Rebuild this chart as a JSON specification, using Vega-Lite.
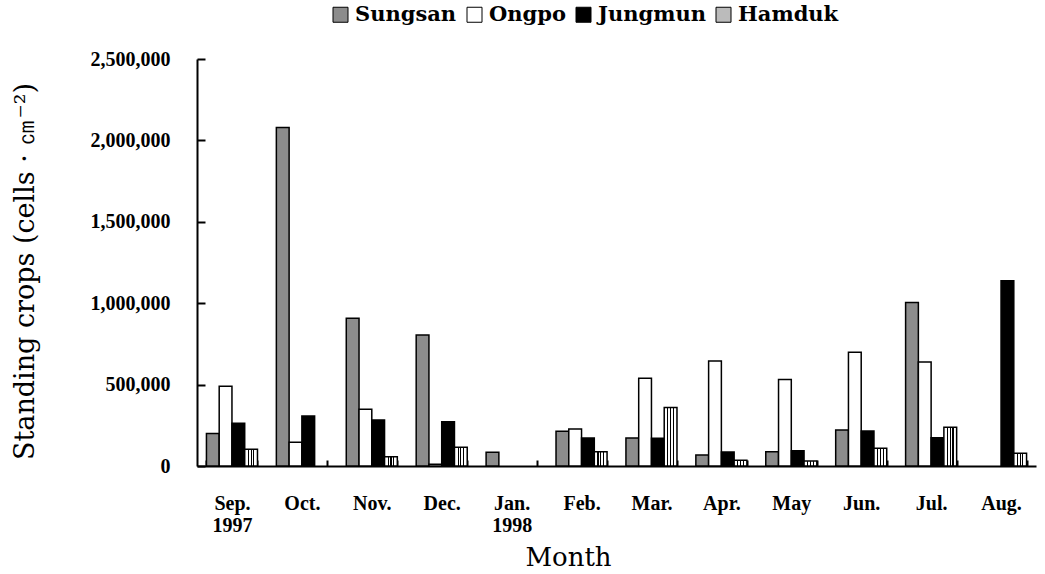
{
  "$schema": "https://vega.github.io/schema/vega-lite/v6.json",
  "width": 839,
  "height": 407,
  "autosize": {"type": "none"},
  "padding": {"left": 197, "top": 59, "right": 9, "bottom": 108},
  "background": "white",
  "config": {"view": {"stroke": null}, "font": "Liberation Serif"},
  "data": {
    "values": [
      {"month": "Sep. 1997", "site": "Sungsan", "value": 200000},
      {"month": "Sep. 1997", "site": "Ongpo", "value": 490000},
      {"month": "Sep. 1997", "site": "Jungmun", "value": 262000},
      {"month": "Sep. 1997", "site": "Hamduk", "value": 103000},
      {"month": "Oct.", "site": "Sungsan", "value": 2080000},
      {"month": "Oct.", "site": "Ongpo", "value": 146000},
      {"month": "Oct.", "site": "Jungmun", "value": 307000},
      {"month": "Oct.", "site": "Hamduk", "value": 0},
      {"month": "Nov.", "site": "Sungsan", "value": 907000},
      {"month": "Nov.", "site": "Ongpo", "value": 348000},
      {"month": "Nov.", "site": "Jungmun", "value": 283000},
      {"month": "Nov.", "site": "Hamduk", "value": 57000},
      {"month": "Dec.", "site": "Sungsan", "value": 805000},
      {"month": "Dec.", "site": "Ongpo", "value": 10000},
      {"month": "Dec.", "site": "Jungmun", "value": 272000},
      {"month": "Dec.", "site": "Hamduk", "value": 115000},
      {"month": "Jan. 1998", "site": "Sungsan", "value": 84000},
      {"month": "Jan. 1998", "site": "Ongpo", "value": 0},
      {"month": "Jan. 1998", "site": "Jungmun", "value": 0},
      {"month": "Jan. 1998", "site": "Hamduk", "value": 0},
      {"month": "Feb.", "site": "Sungsan", "value": 213000},
      {"month": "Feb.", "site": "Ongpo", "value": 227000},
      {"month": "Feb.", "site": "Jungmun", "value": 172000},
      {"month": "Feb.", "site": "Hamduk", "value": 88000},
      {"month": "Mar.", "site": "Sungsan", "value": 172000},
      {"month": "Mar.", "site": "Ongpo", "value": 539000},
      {"month": "Mar.", "site": "Jungmun", "value": 170000},
      {"month": "Mar.", "site": "Hamduk", "value": 360000},
      {"month": "Apr.", "site": "Sungsan", "value": 68000},
      {"month": "Apr.", "site": "Ongpo", "value": 645000},
      {"month": "Apr.", "site": "Jungmun", "value": 86000},
      {"month": "Apr.", "site": "Hamduk", "value": 35000},
      {"month": "May", "site": "Sungsan", "value": 88000},
      {"month": "May", "site": "Ongpo", "value": 532000},
      {"month": "May", "site": "Jungmun", "value": 94000},
      {"month": "May", "site": "Hamduk", "value": 30000},
      {"month": "Jun.", "site": "Sungsan", "value": 221000},
      {"month": "Jun.", "site": "Ongpo", "value": 698000},
      {"month": "Jun.", "site": "Jungmun", "value": 215000},
      {"month": "Jun.", "site": "Hamduk", "value": 109000},
      {"month": "Jul.", "site": "Sungsan", "value": 1005000},
      {"month": "Jul.", "site": "Ongpo", "value": 639000},
      {"month": "Jul.", "site": "Jungmun", "value": 174000},
      {"month": "Jul.", "site": "Hamduk", "value": 238000},
      {"month": "Aug.", "site": "Sungsan", "value": 0},
      {"month": "Aug.", "site": "Ongpo", "value": 0},
      {"month": "Aug.", "site": "Jungmun", "value": 1138000},
      {"month": "Aug.", "site": "Hamduk", "value": 78000}
    ]
  },
  "transform": [{"filter": "datum.value > 0"}],
  "mark": {"type": "bar", "stroke": "black", "strokeWidth": 1.5},
  "encoding": {
    "x": {
      "field": "month",
      "type": "nominal",
      "sort": ["Sep. 1997", "Oct.", "Nov.", "Dec.", "Jan. 1998", "Feb.", "Mar.", "Apr.", "May", "Jun.", "Jul.", "Aug."],
      "scale": {"paddingInner": 0.27, "paddingOuter": 0.135},
      "axis": {
        "title": "Month",
        "titleFont": "DejaVu Serif",
        "titleFontSize": 26,
        "titleFontWeight": "normal",
        "titleColor": "black",
        "titleX": 371,
        "titleY": 78,
        "titleBaseline": "top",
        "titleAlign": "center",
        "labelAngle": 0,
        "labelExpr": "split(datum.label, ' ')",
        "labelFont": "Liberation Serif",
        "labelFontSize": 20,
        "labelFontWeight": "bold",
        "labelColor": "black",
        "labelLineHeight": 22,
        "labelPadding": 33,
        "tickBand": "extent",
        "tickSize": -6,
        "tickWidth": 2,
        "tickColor": "black",
        "domainColor": "black",
        "domainWidth": 2
      }
    },
    "xOffset": {
      "field": "site",
      "type": "nominal",
      "sort": ["Sungsan", "Ongpo", "Jungmun", "Hamduk"],
      "scale": {"domain": ["Sungsan", "Ongpo", "Jungmun", "Hamduk"], "paddingInner": 0, "paddingOuter": 0}
    },
    "y": {
      "field": "value",
      "type": "quantitative",
      "scale": {"domain": [0, 2500000], "nice": false},
      "axis": {
        "values": [0, 500000, 1000000, 1500000, 2000000, 2500000],
        "format": ",d",
        "grid": false,
        "title": "Standing crops (cells · ㎝⁻²)",
        "titleFont": "DejaVu Serif",
        "titleFontSize": 27,
        "titleFontWeight": "normal",
        "titleColor": "black",
        "titleX": -172,
        "titleY": 212,
        "titleAlign": "center",
        "titleBaseline": "middle",
        "titleAngle": -90,
        "labelFont": "Liberation Serif",
        "labelFontSize": 20,
        "labelFontWeight": "bold",
        "labelColor": "black",
        "labelPadding": 35,
        "tickSize": -8,
        "tickWidth": 2,
        "tickColor": "black",
        "domainColor": "black",
        "domainWidth": 2
      }
    },
    "fill": {
      "condition": {
        "test": "datum.site === 'Hamduk'",
        "value": {
          "gradient": "linear",
          "x1": 0, "y1": 0, "x2": 1, "y2": 0,
          "stops": [
            {"offset": 0, "color": "#ffffff"},
            {"offset": 0.24, "color": "#ffffff"},
            {"offset": 0.24, "color": "#000000"},
            {"offset": 0.33, "color": "#000000"},
            {"offset": 0.33, "color": "#ffffff"},
            {"offset": 0.455, "color": "#ffffff"},
            {"offset": 0.455, "color": "#000000"},
            {"offset": 0.545, "color": "#000000"},
            {"offset": 0.545, "color": "#ffffff"},
            {"offset": 0.67, "color": "#ffffff"},
            {"offset": 0.67, "color": "#000000"},
            {"offset": 0.76, "color": "#000000"},
            {"offset": 0.76, "color": "#ffffff"},
            {"offset": 1, "color": "#ffffff"}
          ]
        }
      },
      "field": "site",
      "type": "nominal",
      "scale": {
        "domain": ["Sungsan", "Ongpo", "Jungmun", "Hamduk"],
        "range": ["#8c8c8c", "#ffffff", "#000000", "#bbbbbb"]
      },
      "legend": {
        "orient": "none",
        "legendX": 133,
        "legendY": -55,
        "direction": "horizontal",
        "title": null,
        "symbolType": "square",
        "symbolSize": 225,
        "symbolStrokeColor": "black",
        "symbolStrokeWidth": 1,
        "symbolOpacity": 1,
        "labelFont": "DejaVu Serif",
        "labelFontSize": 21,
        "labelFontWeight": "bold",
        "labelColor": "black",
        "labelOffset": 4,
        "columnPadding": 7,
        "encode": {
          "symbols": {
            "update": {
              "fill": [
                {
                  "test": "datum.label === 'Hamduk'",
                  "value": {
                    "gradient": "linear",
                    "x1": 0, "y1": 0, "x2": 1, "y2": 0,
                    "stops": [
                      {"offset": 0, "color": "#ffffff"},
                      {"offset": 0.2, "color": "#ffffff"},
                      {"offset": 0.2, "color": "#000000"},
                      {"offset": 0.3, "color": "#000000"},
                      {"offset": 0.3, "color": "#ffffff"},
                      {"offset": 0.45, "color": "#ffffff"},
                      {"offset": 0.45, "color": "#000000"},
                      {"offset": 0.55, "color": "#000000"},
                      {"offset": 0.55, "color": "#ffffff"},
                      {"offset": 0.7, "color": "#ffffff"},
                      {"offset": 0.7, "color": "#000000"},
                      {"offset": 0.8, "color": "#000000"},
                      {"offset": 0.8, "color": "#ffffff"},
                      {"offset": 1, "color": "#ffffff"}
                    ]
                  }
                },
                {"scale": "fill", "field": "value"}
              ],
              "stroke": {"value": "black"}
            }
          }
        }
      }
    }
  }
}
